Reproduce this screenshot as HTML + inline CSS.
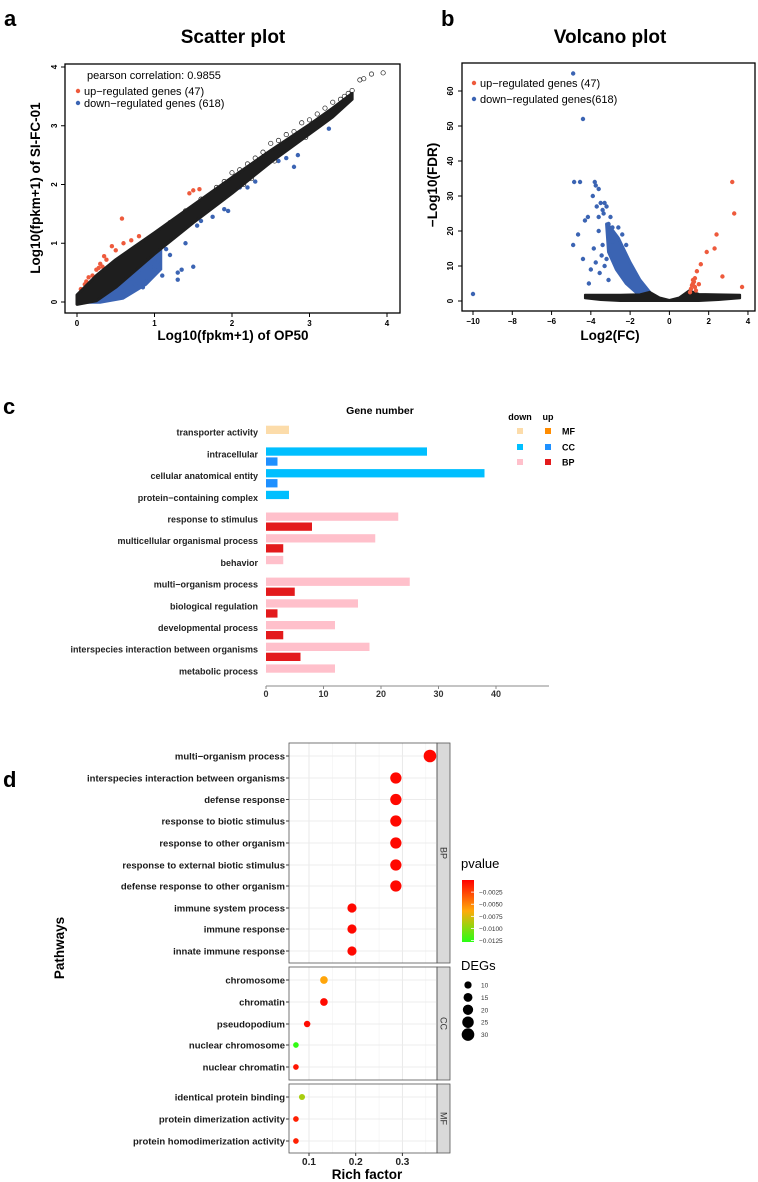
<!DOCTYPE html>
<html><head><meta charset="utf-8">
<style>
html,body{margin:0;padding:0;background:#fff;}
svg{display:block;font-family:"Liberation Sans",Arial,sans-serif;}
.b{font-weight:bold;}
</style></head>
<body>
<svg id="fig" width="758" height="1182" viewBox="0 0 758 1182" xmlns="http://www.w3.org/2000/svg">
<rect x="0" y="0" width="758" height="1182" fill="#fff"/>
<text x="4" y="26" font-size="22" class="b">a</text>
<text x="441" y="26" font-size="22" class="b">b</text>
<text x="3" y="414" font-size="22" class="b">c</text>
<text x="3" y="787" font-size="22" class="b">d</text>
<text x="233" y="43" font-size="19" class="b" text-anchor="middle">Scatter plot</text>
<text x="610" y="43" font-size="19" class="b" text-anchor="middle">Volcano plot</text>
<g id="ga"></g>
<g id="gb"></g>
<g id="gc"></g>
<g id="gd"></g>
</svg>
<script>
// ===== Panel a data =====
const aTicks = [0,1,2,3,4];
const aBandX = [0,0.25,0.5,1,1.5,2,2.5,3,3.3,3.55];
const aBandUpper = [0.12,0.45,0.72,1.18,1.65,2.12,2.58,3.02,3.3,3.55];
const aBandLower = [-0.04,0.02,0.25,0.82,1.35,1.85,2.38,2.86,3.15,3.45];
const aBlueX = [0.1,0.3,0.6,0.9,1.1];
const aBlueLower = [-0.03,-0.03,0.04,0.28,0.55];
const aRedX = [0.58,0.35,0.45,0.28,0.2,0.15,0.1,0.05,0.3,0.38,0.5,1.5,1.45,1.58,0.8,0.7,0.6,0.25,0.12,0.33];
const aRedY = [1.42,0.78,0.95,0.58,0.45,0.42,0.3,0.22,0.65,0.72,0.88,1.9,1.85,1.92,1.12,1.05,1.0,0.55,0.35,0.6];
const aBlueXpts = [3.25,2.85,2.8,2.7,2.6,2.3,2.2,2.1,1.9,1.95,1.75,1.6,1.55,1.4,1.5,1.3,1.2,1.1,1.0,1.05,0.9,0.95,0.8,0.85,0.7,0.75,0.6,1.3,1.35,1.15,1.25,0.65];
const aBlueYpts = [2.95,2.5,2.3,2.45,2.4,2.05,1.95,1.95,1.58,1.55,1.45,1.38,1.3,1.0,0.6,0.5,0.8,0.45,0.55,0.7,0.35,0.6,0.5,0.25,0.4,0.3,0.2,0.38,0.55,0.9,1.1,0.18];
const aOpenX = [3.95,3.8,3.7,3.65,3.55,3.5,3.45,3.4,3.3,3.2,3.1,3.0,2.9,2.8,2.7,2.6,2.5,2.4,2.3,2.2,2.1,2.0,1.9,1.8,1.6,1.4,1.2,3.3,3.1,2.95,2.75,2.65,2.55,2.4,2.25,2.15,1.95,1.8];
const aOpenY = [3.9,3.88,3.8,3.78,3.6,3.55,3.5,3.45,3.4,3.3,3.2,3.1,3.05,2.9,2.85,2.75,2.7,2.55,2.45,2.35,2.25,2.2,2.05,1.95,1.75,1.55,1.35,3.2,3.0,2.8,2.65,2.55,2.4,2.3,2.1,2.0,1.85,1.75];
// ===== Panel b data =====
const bXTicks = [-10,-8,-6,-4,-2,0,2,4];
const bYTicks = [0,10,20,30,40,50,60];
const bBlackX = [-4.3,-3.5,-2.5,-1.5,-1,-0.5,0,0.5,1,1.5,2.5,3.6];
const bBlackUpper = [1.8,1.8,1.8,1.9,2.6,1.0,0.3,1.0,3.0,2.0,1.9,1.8];
const bBlackLower = [0.8,0.3,0,0,0,0,0,0,0,0,0.3,0.8];
const bBlueBandX = [-1,-1.5,-2,-2.6,-3.0,-3.2,-3.1,-2.7,-2.2,-1.7,-1.2];
const bBlueBandY = [2.5,6,11,18,21,22,14,9,5,2.5,1.5];
const bBlueX = [-4.9,-4.4,-10,-4.85,-4.55,-3.8,-3.75,-4.9,-4.65,-4.4,-4.1,-4.0,-4.3,-4.15,-3.7,-3.6,-3.9,-3.5,-3.4,-3.3,-3.2,-3.6,-3.85,-3.45,-3.3,-3.1,-2.9,-3.05,-3.55,-3.75,-3.35,-3.0,-2.9,-3.2,-3.4,-2.6,-2.4,-2.2,-3.6,-3.1];
const bBlueY = [65,52,2,34,34,34,33,16,19,12,5,9,23,24,27,32,30,28,26,28,27,20,15,13,10,22,21,18,8,11,25,24,17,12,16,21,19,16,24,6];
const bRedX = [3.2,3.3,3.7,2.4,2.3,1.9,1.6,2.7,1.4,1.3,1.25,1.2,1.15,1.1,1.05,1.3,1.35,1.2,1.5];
const bRedY = [34,25,4,19,15,14,10.5,7,8.5,6.5,5.5,5,4.5,3.5,2.5,4,3,6,4.8];
// ===== Panel c data =====
const cCats = ["transporter activity","intracellular","cellular anatomical entity","protein\u2212containing complex","response to stimulus","multicellular organismal process","behavior","multi\u2212organism process","biological regulation","developmental process","interspecies interaction between organisms","metabolic process"];
const cGroup = ["MF","CC","CC","CC","BP","BP","BP","BP","BP","BP","BP","BP"];
const cDown = [4,28,38,4,23,19,3,25,16,12,18,12];
const cUp = [0,2,2,0,8,3,0,5,2,3,6,0];
const cTicks = [0,10,20,30,40];
// ===== Panel d data =====
const dCats = ["multi\u2212organism process","interspecies interaction between organisms","defense response","response to biotic stimulus","response to other organism","response to external biotic stimulus","defense response to other organism","immune system process","immune response","innate immune response","chromosome","chromatin","pseudopodium","nuclear chromosome","nuclear chromatin","identical protein binding","protein dimerization activity","protein homodimerization activity"];
const dGroup = ["BP","BP","BP","BP","BP","BP","BP","BP","BP","BP","CC","CC","CC","CC","CC","MF","MF","MF"];
const dRich = [0.359,0.286,0.286,0.286,0.286,0.286,0.286,0.192,0.192,0.192,0.132,0.132,0.096,0.072,0.072,0.085,0.072,0.072];
const dDEG = [30,24,24,24,24,24,24,16,16,16,11,11,8,6,6,7,6,6];
const dP = [-0.0003,-0.0003,-0.0003,-0.0003,-0.0003,-0.0003,-0.0003,-0.0003,-0.0003,-0.0003,-0.0062,-0.0004,-0.0004,-0.0125,-0.0008,-0.009,-0.0012,-0.0012];
const dTicks = [0.1,0.2,0.3];
const dPTicks = [-0.0025,-0.0050,-0.0075,-0.0100,-0.0125];
const dDegLegend = [10,15,20,25,30];

const NS = "http://www.w3.org/2000/svg";
function mk(parent, tag, attrs, text){
  const e = document.createElementNS(NS, tag);
  for (const k in attrs) e.setAttribute(k, attrs[k]);
  if (text !== undefined) e.textContent = text;
  parent.appendChild(e);
  return e;
}
const RED = "#ee5a3c", BLUE = "#3b64b3";

// ===== Panel a =====
(function(){
  const g = document.getElementById('ga');
  const sx = v => 77 + v*77.5, sy = v => 302 - v*58.75;
  let pts = aBandX.map((x,i)=>sx(x)+','+sy(aBandUpper[i]));
  for (let i=aBandX.length-1;i>=0;i--) pts.push(sx(aBandX[i])+','+sy(aBandLower[i]));
  let bl = aBlueX.map((x,i)=>sx(x)+','+sy(aBlueLower[i]));
  const bu = aBlueX.map(x=>{
    let j=0; while(j<aBandX.length-2 && aBandX[j+1]<x) j++;
    const t=(x-aBandX[j])/(aBandX[j+1]-aBandX[j]);
    return sx(x)+','+sy(aBandLower[j]+t*(aBandLower[j+1]-aBandLower[j])+0.05);
  });
  const bp = mk(g,'polygon',{points: bl.concat(bu.reverse()).join(' '), fill:BLUE});
  
  
  aBlueXpts.forEach((x,i)=>{
    const c = mk(g,'circle',{cx:sx(x),cy:sy(aBlueYpts[i]),r:2.2,fill:BLUE});
    
    
  });
  aRedX.forEach((x,i)=>{
    const c = mk(g,'circle',{cx:sx(x),cy:sy(aRedY[i]),r:2.2,fill:RED});
    
    
  });
  aOpenX.forEach((x,i)=>{
    const c = mk(g,'circle',{cx:sx(x),cy:sy(aOpenY[i]),r:2.2,fill:'none',stroke:'#222','stroke-width':0.7});
    
    
  });
  const band = mk(g,'polygon',{points:pts.join(' '), fill:'#1e1e1e', stroke:'#1e1e1e','stroke-width':3,'stroke-linejoin':'round'});
  
  
  const box = mk(g,'rect',{x:65,y:64,width:335,height:249,fill:'none',stroke:'#000','stroke-width':1.3});
  
  
  aTicks.forEach(t=>{
    mk(g,'line',{x1:sx(t),x2:sx(t),y1:313,y2:317,stroke:'#000'});
    const tx = mk(g,'text',{x:sx(t),y:326,'font-size':8,'font-weight':'bold','text-anchor':'middle'},String(t));
    
    
    mk(g,'line',{x1:61,x2:65,y1:sy(t),y2:sy(t),stroke:'#000'});
    const ty = mk(g,'text',{x:0,y:0,'font-size':8,'font-weight':'bold','text-anchor':'middle',transform:`translate(57,${sy(t)}) rotate(-90)`},String(t));
    
    
  });
  const xl = mk(g,'text',{x:233,y:340,'font-size':13.5,'font-weight':'bold','text-anchor':'middle'},'Log10(fpkm+1) of OP50');
  
  
  const yl = mk(g,'text',{x:0,y:0,'font-size':13.5,'font-weight':'bold','text-anchor':'middle',transform:'translate(40,188) rotate(-90)'},'Log10(fpkm+1) of SI-FC-01');
  
  
  const l0 = mk(g,'text',{x:87,y:79,'font-size':11},'pearson correlation: 0.9855');
  
  
  mk(g,'circle',{cx:78,cy:91,r:2.2,fill:RED});
  const l1 = mk(g,'text',{x:84,y:95,'font-size':11},'up\u2212regulated genes (47)');
  
  
  mk(g,'circle',{cx:78,cy:103,r:2.2,fill:BLUE});
  const l2 = mk(g,'text',{x:84,y:107,'font-size':11},'down\u2212regulated genes (618)');
  
  
})();

// ===== Panel b =====
(function(){
  const g = document.getElementById('gb');
  const sx = v => 473 + (v+10)*19.64, sy = v => 301 - v*3.5;
  let pts = bBlackX.map((x,i)=>sx(x)+','+sy(bBlackUpper[i]));
  for (let i=bBlackX.length-1;i>=0;i--) pts.push(sx(bBlackX[i])+','+sy(bBlackLower[i]));
  const bb = mk(g,'polygon',{points:bBlueBandX.map((x,i)=>sx(x)+','+sy(bBlueBandY[i])).join(' '),fill:BLUE,stroke:BLUE,'stroke-width':3,'stroke-linejoin':'round'});
  
  
  const band = mk(g,'polygon',{points:pts.join(' '),fill:'#1e1e1e',stroke:'#1e1e1e','stroke-width':2,'stroke-linejoin':'round'});
  
  
  bBlueX.forEach((x,i)=>{
    const c = mk(g,'circle',{cx:sx(x),cy:sy(bBlueY[i]),r:2.2,fill:BLUE});
    
    
  });
  bRedX.forEach((x,i)=>{
    const c = mk(g,'circle',{cx:sx(x),cy:sy(bRedY[i]),r:2.2,fill:RED});
    
    
  });
  const box = mk(g,'rect',{x:462,y:63,width:293,height:248,fill:'none',stroke:'#000','stroke-width':1.3});
  
  
  bXTicks.forEach(t=>{
    mk(g,'line',{x1:sx(t),x2:sx(t),y1:311,y2:315,stroke:'#000'});
    const tx = mk(g,'text',{x:sx(t),y:324,'font-size':8,'font-weight':'bold','text-anchor':'middle'},t<0?'\u2212'+(-t):String(t));
    
    
  });
  bYTicks.forEach(t=>{
    mk(g,'line',{x1:458,x2:462,y1:sy(t),y2:sy(t),stroke:'#000'});
    const ty = mk(g,'text',{x:0,y:0,'font-size':8,'font-weight':'bold','text-anchor':'middle',transform:`translate(453,${sy(t)}) rotate(-90)`},String(t));
    
    
  });
  const xl = mk(g,'text',{x:610,y:340,'font-size':13.5,'font-weight':'bold','text-anchor':'middle'},'Log2(FC)');
  
  
  const yl = mk(g,'text',{x:0,y:0,'font-size':13.5,'font-weight':'bold','text-anchor':'middle',transform:'translate(437,185) rotate(-90)'},'\u2212Log10(FDR)');
  
  
  mk(g,'circle',{cx:474,cy:83,r:2.2,fill:RED});
  const l1 = mk(g,'text',{x:480,y:87,'font-size':11},'up\u2212regulated genes (47)');
  
  
  mk(g,'circle',{cx:474,cy:99,r:2.2,fill:BLUE});
  const l2 = mk(g,'text',{x:480,y:103,'font-size':11},'down\u2212regulated genes(618)');
  
  
})();

// ===== Panel c =====
(function(){
  const g = document.getElementById('gc');
  const cols = {MF:['#fcdcaa','#ff8c00'],CC:['#00bfff','#1e90ff'],BP:['#ffc0cb','#e31a1c']};
  const sx = v => 266 + v*5.75;
  const barH = 8.3, step = 21.7, top0 = 425.7;
  cCats.forEach((c,i)=>{
    const yt = top0 + i*step;
    const lab = mk(g,'text',{x:258,y:yt+10,'font-size':9,'font-weight':'bold','text-anchor':'end',fill:'#222'},c);
    
    
    if (cDown[i]>0){
      const r = mk(g,'rect',{x:sx(0),y:yt,width:sx(cDown[i])-sx(0),height:barH,fill:cols[cGroup[i]][0]});
      
      
    }
    if (cUp[i]>0){
      const r = mk(g,'rect',{x:sx(0),y:yt+10,width:sx(cUp[i])-sx(0),height:barH,fill:cols[cGroup[i]][1]});
      
      
    }
  });
  const ax = mk(g,'line',{x1:266,x2:549,y1:686,y2:686,stroke:'#888','stroke-width':1});
  
  
  cTicks.forEach(t=>{
    mk(g,'line',{x1:sx(t),x2:sx(t),y1:686,y2:689,stroke:'#888'});
    const tx = mk(g,'text',{x:sx(t),y:697,'font-size':9,'font-weight':'bold','text-anchor':'middle',fill:'#333'},String(t));
    
    
  });
  const t = mk(g,'text',{x:380,y:414,'font-size':10.5,'font-weight':'bold','text-anchor':'middle'},'Gene number');
  
  
  const hd = mk(g,'text',{x:520,y:420,'font-size':9,'font-weight':'bold','text-anchor':'middle'},'down');
  
  
  const hu = mk(g,'text',{x:548,y:420,'font-size':9,'font-weight':'bold','text-anchor':'middle'},'up');
  
  
  [['MF',431],['CC',447],['BP',462]].forEach(([k,y])=>{
    mk(g,'rect',{x:517,y:y-3,width:6,height:6,fill:cols[k][0]});
    mk(g,'rect',{x:545,y:y-3,width:6,height:6,fill:cols[k][1]});
    const l = mk(g,'text',{x:562,y:y+3.5,'font-size':9,'font-weight':'bold'},k);
    
    
  });
})();

// ===== Panel d =====
(function(){
  const g = document.getElementById('gd');
  const sx = v => 309 + (v-0.1)*467;
  const rowY = [756,778,799.5,821,843,865,886,908,929,951,980,1002,1024,1045,1067,1097,1119,1141];
  const panels = {BP:[743,963],CC:[967,1080],MF:[1084,1153]};
  const L=289, R=437, S=450;
  function pcol(p){
    const t = Math.min(1,Math.max(0,-p/0.0128));
    const r = Math.round(t<0.5?255:255-(t-0.5)*2*215);
    const gg = Math.round(t<0.5? t*2*170 : 170+(t-0.5)*2*85);
    return `rgb(${r},${gg},${Math.round(t*20)})`;
  }
  for (const k in panels){
    const [t,b] = panels[k];
    mk(g,'rect',{x:L,y:t,width:R-L,height:b-t,fill:'#fff'});
    [0.1,0.15,0.2,0.25,0.3,0.35].forEach(v=>{
      const major = Math.round(v*100)%10===0;
      mk(g,'line',{x1:sx(v),x2:sx(v),y1:t,y2:b,stroke:major?'#e6e6e6':'#f2f2f2','stroke-width':major?0.9:0.6});
    });
    const st = mk(g,'rect',{x:R,y:t,width:S-R,height:b-t,fill:'#d9d9d9',stroke:'#555','stroke-width':0.8});
    
    
    const sl = mk(g,'text',{x:0,y:0,'font-size':9,fill:'#333','text-anchor':'middle',transform:`translate(${(R+S)/2-3},${(t+b)/2}) rotate(90)`},k);
    
    
  }
  dCats.forEach((c,i)=>{
    mk(g,'line',{x1:L,x2:R,y1:rowY[i],y2:rowY[i],stroke:'#ececec','stroke-width':0.9});
  });
  dCats.forEach((c,i)=>{
    const y = rowY[i];
    mk(g,'line',{x1:286,x2:289,y1:y,y2:y,stroke:'#333'});
    const lab = mk(g,'text',{x:285,y:y+3.5,'font-size':9.5,'font-weight':'bold','text-anchor':'end',fill:'#1a1a1a'},c);
    
    
    const dot = mk(g,'circle',{cx:sx(dRich[i]),cy:y,r:1.15*Math.sqrt(dDEG[i]),fill:pcol(dP[i])});
    
    
  });
  for (const k in panels){
    const [t,b] = panels[k];
    mk(g,'rect',{x:L,y:t,width:R-L,height:b-t,fill:'none',stroke:'#555','stroke-width':0.8});
  }
  dTicks.forEach(v=>{
    mk(g,'line',{x1:sx(v),x2:sx(v),y1:1153,y2:1156,stroke:'#333'});
    const tx = mk(g,'text',{x:sx(v),y:1165,'font-size':10,'font-weight':'bold','text-anchor':'middle',fill:'#222'},String(v));
    
    
  });
  const xl = mk(g,'text',{x:367,y:1179,'font-size':13.5,'font-weight':'bold','text-anchor':'middle'},'Rich factor');
  
  
  const yl = mk(g,'text',{x:0,y:0,'font-size':13.5,'font-weight':'bold','text-anchor':'middle',transform:'translate(64,948) rotate(-90)'},'Pathways');
  
  
  const defs = mk(g,'defs',{});
  const lg = mk(defs,'linearGradient',{id:'pgrad',x1:0,y1:0,x2:0,y2:1});
  [0,0.25,0.5,0.75,1].forEach(o=>mk(lg,'stop',{offset:o,'stop-color':pcol(-o*0.0128)}));
  const pt = mk(g,'text',{x:461,y:868,'font-size':13},'pvalue');
  
  
  const cb = mk(g,'rect',{x:462,y:880,width:12,height:62,fill:'url(#pgrad)'});
  
  
  dPTicks.forEach(v=>{
    const y = 880 + (-v/0.0128)*62;
    mk(g,'line',{x1:471,x2:474,y1:y,y2:y,stroke:'#fff','stroke-width':0.8});
    const l = mk(g,'text',{x:479,y:y+2.5,'font-size':6.5,fill:'#333'},'\u2212'+(-v).toFixed(4));
    
    
  });
  const dt = mk(g,'text',{x:461,y:970,'font-size':13},'DEGs');
  
  
  dDegLegend.forEach((v,i)=>{
    const y = 985 + i*12.4;
    mk(g,'circle',{cx:468,cy:y,r:1.15*Math.sqrt(v),fill:'#000'});
    const l = mk(g,'text',{x:481,y:y+2.5,'font-size':6.5,fill:'#333'},String(v));
    
    
  });
})();
</script>
</body></html>
